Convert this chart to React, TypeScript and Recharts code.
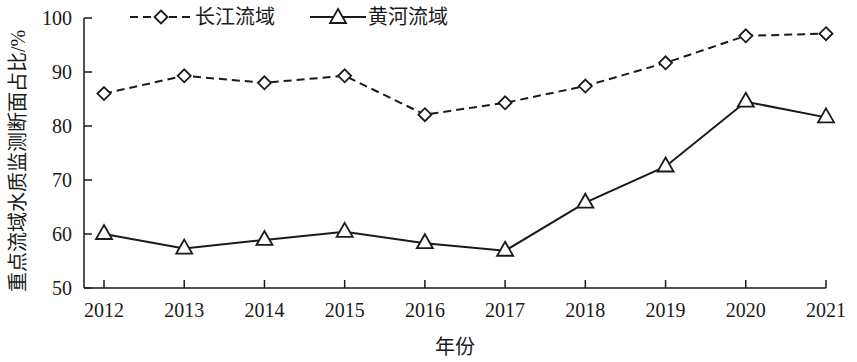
import React from "react";
import { LineChart, Line, XAxis, YAxis } from "recharts";

const years = ["2012", "2013", "2014", "2015", "2016", "2017", "2018", "2019", "2020", "2021"];
const changjiang = [86.0, 89.3, 88.0, 89.3, 82.1, 84.3, 87.4, 91.7, 96.7, 97.1];
const huanghe = [60.0, 57.3, 58.9, 60.4, 58.3, 56.9, 65.8, 72.5, 84.5, 81.6];
const yTicks = [50, 60, 70, 80, 90, 100];

const data = years.map((year, i) => ({
  year,
  changjiang: changjiang[i],
  huanghe: huanghe[i],
}));

const FONT = "'Liberation Serif', 'Times New Roman', 'Noto Sans CJK SC', serif";
const INK = "#1a1a1a";

const Diamond = (props: any) => {
  const { cx, cy, index } = props;
  if (cx == null || cy == null) return null;
  const r = 6.5;
  return (
    <path
      key={`d-${index}`}
      d={`M${cx},${cy - r} L${cx + r},${cy} L${cx},${cy + r} L${cx - r},${cy} Z`}
      fill="#fff"
      stroke={INK}
      strokeWidth={1.8}
    />
  );
};

const Triangle = (props: any) => {
  const { cx, cy, index } = props;
  if (cx == null || cy == null) return null;
  return (
    <path
      key={`t-${index}`}
      d={`M${cx},${cy - 9} L${cx + 8},${cy + 5} L${cx - 8},${cy + 5} Z`}
      fill="#fff"
      stroke={INK}
      strokeWidth={1.8}
    />
  );
};

// legend drawn as an overlay so it does not push the plot down
const LegendOverlay = () => (
  <svg
    width={340}
    height={30}
    style={{ position: "absolute", left: 130, top: 4, overflow: "visible" }}
  >
    <line x1={0} y1={13} x2={62} y2={13} stroke={INK} strokeWidth={2} strokeDasharray="8 5" />
    <Diamond cx={31} cy={13} index={0} />
    <text x={65} y={20} fontFamily={FONT} fontSize={20} fill={INK}>长江流域</text>
    <line x1={180} y1={13} x2={236} y2={13} stroke={INK} strokeWidth={2} />
    <Triangle cx={208} cy={14} index={0} />
    <text x={238} y={20} fontFamily={FONT} fontSize={20} fill={INK}>黄河流域</text>
  </svg>
);

export default function App() {
  return (
    <div style={{ position: "absolute", left: 0, top: 0, width: 857, height: 362, background: "#fff" }}>
      <LineChart
        width={857}
        height={362}
        data={data}
        margin={{ top: 18, right: 31, left: 0, bottom: 0 }}
        style={{ fontFamily: FONT }}
      >
        <XAxis
          dataKey="year"
          height={74}
          padding={{ left: 20, right: 0 }}
          axisLine={{ stroke: INK, strokeWidth: 1.5 }}
          tickLine={{ stroke: INK, strokeWidth: 1.5 }}
          tickSize={-8}
          tickMargin={23}
          tick={{ fill: INK, fontSize: 20, fontFamily: FONT }}
          interval={0}
          label={{ value: "年份", position: "insideBottom", offset: 8, fill: INK, fontSize: 20, fontFamily: FONT }}
        />
        <YAxis
          width={84}
          domain={[50, 100]}
          ticks={yTicks}
          allowDataOverflow
          axisLine={{ stroke: INK, strokeWidth: 1.5 }}
          tickLine={{ stroke: INK, strokeWidth: 1.5 }}
          tickSize={-8}
          tickMargin={20}
          tick={{ fill: INK, fontSize: 20, fontFamily: FONT }}
          label={{
            value: "重点流域水质监测断面占比/%",
            angle: -90,
            position: "center",
            dx: -24,
            dy: 8,
            fill: INK,
            fontSize: 20,
            fontFamily: FONT,
          }}
        />
        <Line
          type="linear"
          dataKey="changjiang"
          name="长江流域"
          stroke={INK}
          strokeWidth={2}
          strokeDasharray="8 5"
          dot={Diamond}
          activeDot={false}
          isAnimationActive={false}
        />
        <Line
          type="linear"
          dataKey="huanghe"
          name="黄河流域"
          stroke={INK}
          strokeWidth={2}
          dot={Triangle}
          activeDot={false}
          isAnimationActive={false}
        />
      </LineChart>
      <LegendOverlay />
    </div>
  );
}
